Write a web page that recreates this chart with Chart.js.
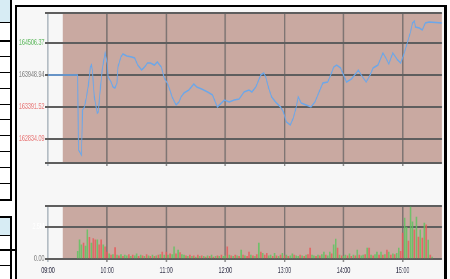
<!DOCTYPE html>
<html>
<head>
<meta charset="utf-8">
<script src="https://cdn.jsdelivr.net/npm/chart.js@4.4.1/dist/chart.umd.min.js"></script>
<style>
  html, body { margin: 0; padding: 0; background: #fff; }
  #wrap { position: relative; width: 450px; height: 279px; overflow: hidden; }
  #panel { position: absolute; left: 15px; top: 5px; width: 427px; height: 290px;
           border-left: 2px solid #000; border-top: 2px solid #000; border-right: 3px solid #000;
           background: #f7f7f7; }
  .cell { position: absolute; left: 0; width: 10px; box-sizing: border-box; }
  .hl { position: absolute; left: 0; width: 11px; background: #000; }
  .vl { position: absolute; width: 2px; background: #000; }
  /* the charts are drawn wide and squeezed to 60% horizontally, like the source picture */
  canvas { position: absolute; left: 0; width: 450px; }
</style>
</head>
<body>
<div id="wrap">
  <!-- side table (cut off at the left edge) -->
  <div class="cell" style="top:0;height:22px;background:#d7ecf4"></div>
  <div class="hl" style="top:22px;height:1px"></div>
  <div class="hl" style="top:40px;height:2px"></div>
  <div class="hl" style="top:56px;height:1px"></div>
  <div class="hl" style="top:72px;height:1px"></div>
  <div class="hl" style="top:88px;height:1px"></div>
  <div class="hl" style="top:104px;height:1px"></div>
  <div class="hl" style="top:119px;height:1px"></div>
  <div class="hl" style="top:135px;height:1px"></div>
  <div class="hl" style="top:151px;height:1px"></div>
  <div class="hl" style="top:167px;height:1px"></div>
  <div class="hl" style="top:183px;height:1px"></div>
  <div class="hl" style="top:199px;height:2px"></div>
  <div class="vl" style="left:10px;top:0;height:201px"></div>

  <div class="hl" style="top:216px;height:2px"></div>
  <div class="cell" style="top:218px;height:17px;background:#d7ecf4"></div>
  <div class="hl" style="top:235px;height:1px"></div>
  <div class="hl" style="top:249px;height:2px;width:16px"></div>
  <div class="hl" style="top:265px;height:1px"></div>
  <div class="vl" style="left:10px;top:216px;height:63px"></div>

  <div id="panel"></div>
  <canvas id="priceChart" width="750" height="175" style="top:0;height:175px"></canvas>
  <canvas id="volChart" width="750" height="89" style="top:190px;height:89px"></canvas>
</div>
<script>
const FONT = "'Liberation Sans', Arial, sans-serif";
const SX = 0.6; // horizontal squeeze of the canvases

// session shading starts here, axis runs 09:00 - 15:40
const sessionOpen = '09:15';
const axisStart = '09:00';
const axisEnd = '15:40';
const hourTicks = ['09:00', '10:00', '11:00', '12:00', '13:00', '14:00', '15:00'];

const prevClose = 163948.94;
const priceTicks = [162834.09, 163391.52, 163948.94, 164506.37];
const priceMin = 162416;
const priceMax = 165029;

const priceTimes = ['09:00','09:30','09:31','09:34','09:35','09:37','09:39','09:41','09:43','09:44',
  '09:45','09:47','09:50','09:51','09:53','09:55','09:57','09:58','10:00','10:01',
  '10:04','10:06','10:08','10:10','10:11','10:14','10:16','10:20','10:25','10:28',
  '10:31','10:35','10:38','10:41','10:44','10:48','10:51','10:55','10:58','11:01',
  '11:03','11:06','11:10','11:13','11:15','11:18','11:23','11:28','11:31','11:36',
  '11:42','11:47','11:51','11:52','11:56','11:59','12:04','12:09','12:14','12:19',
  '12:24','12:27','12:31','12:36','12:39','12:41','12:44','12:47','12:51','12:56',
  '12:59','13:02','13:06','13:09','13:12','13:14','13:17','13:22','13:27','13:31',
  '13:36','13:39','13:44','13:47','13:50','13:53','13:57','14:00','14:03','14:08',
  '14:13','14:15','14:18','14:23','14:27','14:30','14:35','14:40','14:43','14:46',
  '14:50','14:55','14:58','15:01','15:05','15:08','15:10','15:12','15:13','15:17',
  '15:20','15:23','15:27','15:40'];

const prices = [163949,163949,162642,162555,163339,163392,163566,163775,164088,164123,
  164036,163566,163287,163304,163688,164036,164245,164332,164158,163914,
  163827,163740,163722,163810,164088,164263,164315,164280,164263,164245,
  164123,164036,164088,164158,164158,164123,164175,164088,163897,163810,
  163722,163566,163426,163479,163566,163635,163688,163792,163740,163705,
  163653,163601,163426,163392,163461,163513,163479,163513,163531,163653,
  163688,163653,163740,163949,163984,163914,163722,163566,163479,163392,
  163304,163130,163078,163200,163392,163566,163461,163426,163392,163479,
  163688,163810,163827,163949,164088,164123,164071,163949,163827,163879,
  163984,164036,163949,163827,163949,164071,164123,164332,164245,164141,
  164332,164210,164158,164297,164524,164698,164855,164890,164785,164768,
  164733,164855,164872,164855];

// volume bars, one every 2 minutes from 09:30 to 15:30
const volStart = '09:30';
const volStep = 2;
const volTicks = [0, 2500000];
const volMax = 4140000;
const volumes = [0.60,1.50,1.10,1.25,1.00,2.27,1.70,1.25,1.60,1.50,
  1.50,1.10,1.50,1.10,0.95,0.55,0.40,0.30,0.35,0.90,
  0.30,0.25,0.35,0.20,0.30,0.25,0.35,0.20,0.30,0.25,
  0.40,0.20,0.30,0.25,0.20,0.35,0.25,0.20,0.30,0.20,
  0.25,0.30,0.35,0.55,0.30,0.55,0.30,0.40,0.35,0.95,
  0.40,0.70,0.50,0.35,0.30,0.25,0.20,0.30,0.20,0.25,
  0.15,0.30,0.20,0.25,0.20,0.15,0.25,0.20,0.30,0.15,
  0.20,0.25,0.20,0.30,0.20,0.25,0.95,0.30,0.25,0.20,
  0.30,0.25,0.20,0.70,0.30,0.25,0.20,0.55,0.30,0.25,
  0.20,0.35,1.25,0.55,0.45,0.30,0.45,0.25,0.30,0.20,
  0.45,0.25,0.20,0.30,0.45,0.25,0.30,0.20,0.25,0.40,
  0.30,0.25,0.20,0.30,0.25,0.20,0.30,0.35,0.85,0.30,
  0.25,0.20,0.30,0.25,0.35,0.55,0.30,0.25,0.55,0.40,
  1.10,1.55,0.85,0.30,0.25,0.20,0.30,0.25,0.40,0.20,
  0.30,0.25,0.70,0.30,0.25,0.30,0.35,0.85,0.85,0.30,
  0.25,0.35,0.55,0.30,0.55,0.30,0.35,0.70,0.55,0.30,
  0.40,0.35,0.45,0.85,0.60,2.03,3.20,2.50,1.40,4.06,
  2.90,2.27,3.28,1.72,2.27,1.64,2.81,2.66,1.48,0.30,
  0.15];
// 1 = up (green), 0 = down (red)
const volUp = [1,1,1,0,1,1,0,1,0,0, 1,0,0,1,0,0,1,0,1,0,
  1,0,1,0,1,1,0,1,0,1, 1,0,1,0,1,0,1,0,1,0,
  1,0,1,0,1,0,1,0,1,1, 0,1,0,1,1,0,1,0,1,0,
  1,0,1,0,1,0,1,0,1,0, 1,0,1,0,1,1,0,1,0,1,
  0,1,0,1,0,1,0,0,1,0, 1,0,1,0,1,0,0,1,1,0,
  1,0,1,0,1,0,1,0,1,1, 0,1,1,0,1,0,1,0,0,1,
  1,0,1,0,1,1,0,1,1,0, 1,1,0,1,0,1,1,0,1,0,
  1,0,1,0,1,1,0,1,0,1, 0,1,1,0,1,0,1,0,1,0,
  1,0,1,1,0,0,1,1,0,1, 1,0,1,0,1,0,1,0,1,0,
  1];

const GREEN = 'rgba(96, 196, 96, 0.85)';
const RED = 'rgba(232, 92, 92, 0.85)';
const BROWN = '#c9a9a1';
const GRID = '#5e5e5e';

const toMin = t => { const [h, m] = t.split(':').map(Number); return h * 60 + m - 9 * 60; };
const fmtMin = v => { const h = 9 + Math.floor(v / 60), m = v % 60; return String(h).padStart(2, '0') + ':' + String(m).padStart(2, '0'); };

// brown shading for the trading session
const sessionShade = {
    id: 'sessionShade',
    beforeDraw(chart) {
        const { ctx, chartArea: a, scales } = chart;
        const x0 = scales.x.getPixelForValue(toMin(sessionOpen));
        ctx.save();
        ctx.fillStyle = BROWN;
        ctx.fillRect(x0, a.top, a.right - x0, a.bottom - a.top);
        ctx.restore();
    }
};

const plotLeft = 48 / SX;
const padRight = 750 - 442 / SX;

function timeAxis(extra) {
    return Object.assign({
        type: 'linear',
        min: toMin(axisStart),
        max: toMin(axisEnd),
        offset: false,
        afterBuildTicks: s => { s.ticks = hourTicks.map(t => ({ value: toMin(t) })); },
        grid: {
            offset: false,
            color: c => c.tick && c.tick.value === 0 ? '#8c9ba6' : 'rgba(95, 95, 95, 0.7)',
            lineWidth: c => c.tick && c.tick.value === 0 ? 1.6 : 2.5,
            tickLength: 3
        },
        border: { display: false }
    }, extra);
}

Chart.defaults.font.family = FONT;
Chart.defaults.animation = false;

new Chart(document.getElementById('priceChart'), {
    type: 'line',
    data: {
        datasets: [{
            data: priceTimes.map((t, i) => ({ x: toMin(t), y: prices[i] })),
            borderColor: '#6ba7ea',
            borderWidth: 1.6,
            pointRadius: 0,
            tension: 0,
            fill: false
        }]
    },
    options: {
        responsive: false,
        devicePixelRatio: 1,
        layout: { padding: { top: 13, right: padRight, bottom: 12, left: 0 } },
        scales: {
            x: timeAxis({
                ticks: { display: false },
                afterFit: s => { s.height = 0; }
            }),
            y: {
                min: priceMin,
                max: priceMax,
                afterBuildTicks: s => { s.ticks = [priceMin, ...priceTicks, priceMax].map(v => ({ value: v })); },
                afterFit: s => { s.width = plotLeft; },
                grid: { color: GRID, lineWidth: 2, tickLength: 5 },
                border: { display: false },
                ticks: {
                    padding: 1,
                    font: { size: 9 },
                    callback: v => priceTicks.includes(v) ? v.toFixed(2) : '',
                    color: c => c.tick.value > prevClose ? '#6dbf6d' : (c.tick.value < prevClose ? '#e98080' : '#8a8a8a')
                }
            }
        },
        plugins: { legend: { display: false }, tooltip: { enabled: false } }
    },
    plugins: [sessionShade]
});

const volX = volumes.map((_, i) => toMin(volStart) + i * volStep);

new Chart(document.getElementById('volChart'), {
    type: 'bar',
    data: {
        datasets: [{
            data: volumes.map((v, i) => ({ x: volX[i], y: v * 1e6 })),
            backgroundColor: volUp.map(u => u ? GREEN : RED),
            barThickness: 2,
            borderWidth: 0
        }]
    },
    options: {
        responsive: false,
        devicePixelRatio: 1,
        layout: { padding: { top: 16, right: padRight, bottom: 0, left: 0 } },
        scales: {
            x: timeAxis({
                ticks: {
                    padding: 3,
                    font: { size: 9 },
                    color: '#34344a',
                    maxRotation: 0,
                    callback: v => fmtMin(v)
                },
                afterFit: s => { s.height = 20; }
            }),
            y: {
                min: 0,
                max: volMax,
                afterBuildTicks: s => { s.ticks = [...volTicks, volMax].map(v => ({ value: v })); },
                afterFit: s => { s.width = plotLeft; },
                grid: { color: GRID, lineWidth: 2, tickLength: 5 },
                border: { display: false },
                ticks: {
                    padding: 1,
                    font: { size: 9 },
                    callback: v => v === 0 ? '0.00' : (v === 2500000 ? '2.5M' : ''),
                    color: c => c.tick.value === 0 ? '#8a8a8a' : '#ffffff'
                }
            }
        },
        plugins: { legend: { display: false }, tooltip: { enabled: false } }
    },
    plugins: [sessionShade]
});
</script>
</body>
</html>
